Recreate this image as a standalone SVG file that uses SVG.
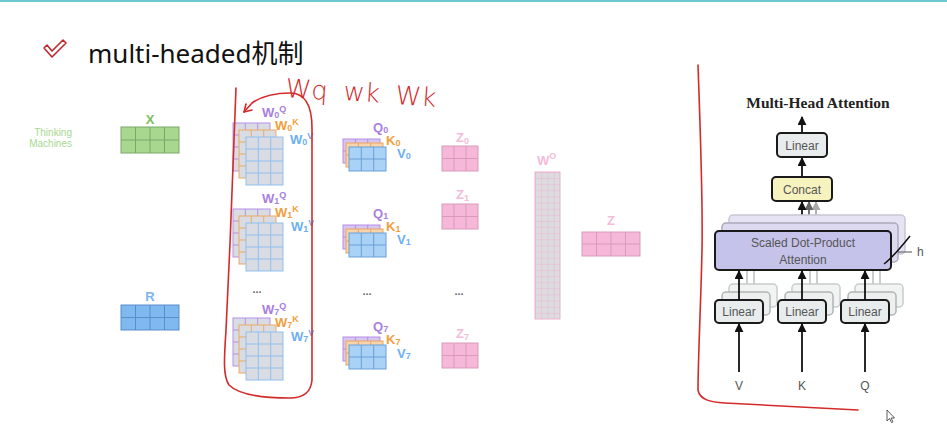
<svg xmlns="http://www.w3.org/2000/svg" xmlns:xlink="http://www.w3.org/1999/xlink" width="947" height="432" viewBox="0 0 947 432">
<style>
.lbl{font-family:"Liberation Sans",Arial,sans-serif;font-weight:bold;font-size:13px}
.sub{font-size:9px}
.pur{fill:#a97fe2}.org{fill:#f0a040}.blu{fill:#6db0f0}.pnk{fill:#f4bcd8}
.red{fill:none;stroke:#d42a2a;stroke-width:1.6;stroke-linecap:round;stroke-linejoin:round}
.hw{font-family:"DejaVu Sans",sans-serif;font-weight:200;font-size:26px;fill:#d42a2a}
.box{stroke:#1a1a1a;stroke-width:2}
.bt{font-family:"Liberation Sans",Arial,sans-serif;font-size:12px;fill:#555;text-anchor:middle}
.ar{stroke:#111;stroke-width:1.8;fill:none}
.dots{font-family:"Liberation Sans",Arial,sans-serif;font-weight:bold;font-size:11px;fill:#666;text-anchor:middle}
</style>
<defs>
<g id="wm"><rect width="37" height="48" fill="#d9dce2" stroke="currentColor"/><path d="M12.3,0V48M24.7,0V48M0,12H37M0,24H37M0,36H37" stroke="currentColor" fill="none"/></g>
<g id="qm"><rect width="37" height="24" stroke="currentColor"/><path d="M12.3,0V24M24.7,0V24M0,12H37" stroke="currentColor" fill="none"/></g>
<g id="zm"><rect width="36" height="25" fill="#f5b8d8" stroke="#d99abc"/><path d="M12,0V25M24,0V25M0,12.5H36" stroke="#d99abc" fill="none"/></g>
<g id="wstack"><use xlink:href="#wm" color="#b890e8"/><use xlink:href="#wm" x="6" y="7" color="#f0aa60"/><use xlink:href="#wm" x="13" y="14" color="#8fc0f0"/></g>
<g id="qstack"><use xlink:href="#qm" fill="#d7c6f2" color="#b58ee6"/><use xlink:href="#qm" x="3" y="4" fill="#f7d4ac" color="#eba660"/><use xlink:href="#qm" x="6" y="8" fill="#aad2f6" color="#6aa0d8"/></g>
<pattern id="wog" x="535" y="172" width="6.25" height="6.125" patternUnits="userSpaceOnUse"><rect width="6.25" height="6.125" fill="#dcdcdf"/><path d="M0,0H6.25M0,0V6.125" stroke="#eeb0cf" stroke-width="1" fill="none"/></pattern>
<marker id="ah" viewBox="0 0 10 10" refX="9" refY="5" markerWidth="5" markerHeight="5" orient="auto"><path d="M0,0L10,5L0,10z" fill="#111"/></marker>
<marker id="ah2" viewBox="0 0 10 10" refX="9" refY="5" markerWidth="5" markerHeight="5" orient="auto"><path d="M0,0L10,5L0,10z" fill="#666"/></marker>
<marker id="ah3" viewBox="0 0 10 10" refX="9" refY="5" markerWidth="5" markerHeight="5" orient="auto"><path d="M0,0L10,5L0,10z" fill="#aaa"/></marker>
<g id="linbk"><rect x="14" y="-16" width="48" height="23" rx="4" fill="#f2f4f4" stroke="#c8cccc" stroke-width="1.5"/><rect x="7" y="-8" width="48" height="23" rx="4" fill="#eef0f0" stroke="#b0b4b4" stroke-width="1.5"/><rect width="48" height="23" rx="4" fill="#e8ecec" class="box"/></g>
</defs>
<rect width="947" height="432" fill="#ffffff"/>
<rect width="947" height="2" fill="#6cc8cc"/>

<g id="title">
<path d="M44,48L47,45L52,51L63,40L66,43L52,57Z" fill="none" stroke="#c0282d" stroke-width="1.6" stroke-linejoin="round"/>
<text x="88" y="63" font-family="'Noto Sans','Noto Sans CJK SC',sans-serif" font-size="26" fill="#111">multi-headed机制</text>
</g>

<g id="input-x">
<text x="72" y="136" font-family="'Liberation Sans',Arial,sans-serif" font-size="10" fill="#a8d890" text-anchor="end">Thinking</text>
<text x="72" y="147" font-family="'Liberation Sans',Arial,sans-serif" font-size="10" fill="#a8d890" text-anchor="end">Machines</text>
<text x="150" y="124" class="lbl" fill="#7cc060" text-anchor="middle" font-size="14">X</text>
<rect x="121" y="127" width="58" height="26" fill="#a8d890" stroke="#78a868"/>
<path d="M135.5,127V153M150,127V153M164.5,127V153M121,140H179" stroke="#78a868" fill="none"/>
</g>

<g id="input-r">
<text x="150" y="301" class="lbl" fill="#7ab4f0" text-anchor="middle" font-size="14">R</text>
<rect x="121" y="305" width="58" height="25" fill="#80b8f0" stroke="#5a8ec8"/>
<path d="M135.5,305V330M150,305V330M164.5,305V330M121,317.5H179" stroke="#5a8ec8" fill="none"/>
</g>

<g id="w0">
<use xlink:href="#wstack" x="233" y="123"/>
<text x="262" y="117" class="lbl pur">W<tspan class="sub" dy="1">0</tspan><tspan class="sub" dy="-6">Q</tspan></text>
<text x="275" y="130" class="lbl org">W<tspan class="sub" dy="1">0</tspan><tspan class="sub" dy="-6">K</tspan></text>
<text x="290" y="144" class="lbl blu">W<tspan class="sub" dy="1">0</tspan><tspan class="sub" dy="-6">V</tspan></text>
</g>
<g id="w1">
<use xlink:href="#wstack" x="233" y="209"/>
<text x="262" y="203" class="lbl pur">W<tspan class="sub" dy="1">1</tspan><tspan class="sub" dy="-6">Q</tspan></text>
<text x="275" y="217" class="lbl org">W<tspan class="sub" dy="1">1</tspan><tspan class="sub" dy="-6">K</tspan></text>
<text x="291" y="231" class="lbl blu">W<tspan class="sub" dy="1">1</tspan><tspan class="sub" dy="-6">V</tspan></text>
</g>
<text x="257" y="293" class="dots">...</text>
<g id="w7">
<use xlink:href="#wstack" x="233" y="318"/>
<text x="262" y="314" class="lbl pur">W<tspan class="sub" dy="1">7</tspan><tspan class="sub" dy="-6">Q</tspan></text>
<text x="275" y="327" class="lbl org">W<tspan class="sub" dy="1">7</tspan><tspan class="sub" dy="-6">K</tspan></text>
<text x="291" y="341" class="lbl blu">W<tspan class="sub" dy="1">7</tspan><tspan class="sub" dy="-6">V</tspan></text>
</g>

<g id="qkv0">
<use xlink:href="#qstack" x="343" y="139"/>
<text x="373" y="132" class="lbl pur">Q<tspan class="sub" dy="1">0</tspan></text>
<text x="386" y="145" class="lbl org">K<tspan class="sub" dy="1">0</tspan></text>
<text x="397" y="158" class="lbl blu">V<tspan class="sub" dy="1">0</tspan></text>
</g>
<g id="qkv1">
<use xlink:href="#qstack" x="343" y="225"/>
<text x="373" y="218" class="lbl pur">Q<tspan class="sub" dy="1">1</tspan></text>
<text x="386" y="231" class="lbl org">K<tspan class="sub" dy="1">1</tspan></text>
<text x="397" y="244" class="lbl blu">V<tspan class="sub" dy="1">1</tspan></text>
</g>
<text x="367" y="295" class="dots">...</text>
<g id="qkv7">
<use xlink:href="#qstack" x="343" y="337"/>
<text x="373" y="331" class="lbl pur">Q<tspan class="sub" dy="1">7</tspan></text>
<text x="386" y="344" class="lbl org">K<tspan class="sub" dy="1">7</tspan></text>
<text x="397" y="358" class="lbl blu">V<tspan class="sub" dy="1">7</tspan></text>
</g>

<g id="z0"><use xlink:href="#zm" x="442" y="146"/><text x="456" y="142" class="lbl pnk">Z<tspan class="sub" dy="2">0</tspan></text></g>
<g id="z1"><use xlink:href="#zm" x="442" y="204"/><text x="456" y="199" class="lbl pnk">Z<tspan class="sub" dy="2">1</tspan></text></g>
<text x="459" y="295" class="dots">...</text>
<g id="z7"><use xlink:href="#zm" x="442" y="343"/><text x="456" y="338" class="lbl pnk">Z<tspan class="sub" dy="2">7</tspan></text></g>

<g id="wo">
<text x="537" y="165" class="lbl pnk">W<tspan class="sub" dy="-6">O</tspan></text>
<rect x="535" y="172" width="25" height="147" fill="url(#wog)" stroke="#eeb0cf"/>
</g>
<g id="z">
<text x="611" y="225" class="lbl pnk" text-anchor="middle">Z</text>
<rect x="582" y="232" width="58" height="24" fill="#f5b8d8" stroke="#d99abc"/>
<path d="M596.5,232V256M611,232V256M625.5,232V256M582,244H640" stroke="#d99abc" fill="none"/>
</g>

<g id="annotations">
<path class="red" d="M236,88C234,150 230,250 226,330C224,360 223,376 229,385C238,394 262,398 290,398C304,398 311,392 312,380L312,128C312,106 305,93 290,93C275,93 262,96 252,103L244,112"/>
<path class="red" d="M244,112L246,104M244,112L252,110"/>
<text x="285" y="97" class="hw" transform="rotate(4 285 97)">Wq</text>
<text x="343" y="100" class="hw" transform="rotate(4 343 100)">wk</text>
<text x="395" y="104" class="hw" transform="rotate(4 395 104)">Wk</text>
<path class="red" d="M698,65C700,120 703,200 702,250C701,300 698,360 698,390C700,400 710,402 725,403L858,410"/>
</g>

<g id="mha-title"><text x="818" y="108" font-family="'Liberation Serif','Times New Roman',serif" font-weight="bold" font-size="15.5" fill="#222" text-anchor="middle">Multi-Head Attention</text></g>

<g id="connectors">
<line x1="802" y1="133" x2="802" y2="117" class="ar" marker-end="url(#ah)"/>
<line x1="802" y1="177" x2="802" y2="158" class="ar" marker-end="url(#ah)"/>
<line x1="816" y1="215" x2="816" y2="202" stroke="#aaa" stroke-width="1.8" marker-end="url(#ah3)"/>
<line x1="809" y1="223" x2="809" y2="202" stroke="#666" stroke-width="1.8" marker-end="url(#ah2)"/>
<line x1="802" y1="231" x2="802" y2="202" class="ar" marker-end="url(#ah)"/>
<g stroke="#c8c8c8" stroke-width="1.8">
<line x1="747" y1="292" x2="747" y2="262"/><line x1="754" y1="284" x2="754" y2="254"/>
<line x1="810" y1="292" x2="810" y2="262"/><line x1="817" y1="284" x2="817" y2="254"/>
<line x1="873" y1="292" x2="873" y2="262"/><line x1="880" y1="284" x2="880" y2="254"/>
</g>
</g>

<g id="sdpa">
<rect x="729" y="215" width="176" height="39" rx="4" fill="#e6e4f4" stroke="#c8c8d4" stroke-width="1.5"/>
<rect x="722" y="223" width="176" height="39" rx="4" fill="#dcd9f0" stroke="#aaaabb" stroke-width="1.5"/>
<rect x="715" y="231" width="176" height="39" rx="4" fill="#c6c3ea" class="box"/>
<text x="803" y="247" class="bt">Scaled Dot-Product</text>
<text x="803" y="264" class="bt">Attention</text>
<path d="M884,264C892,258 902,246 910,236" stroke="#111" stroke-width="1.5" fill="none"/>
<line x1="898" y1="252" x2="912" y2="252" stroke="#555" stroke-width="1"/>
<text x="917" y="256" font-family="'Liberation Sans',Arial,sans-serif" font-size="12" fill="#555">h</text>
</g>

<g id="concat"><rect x="772" y="177" width="60" height="24" rx="4" fill="#f7f3bf" class="box"/><text x="802" y="194" class="bt">Concat</text></g>
<g id="linear-top"><rect x="777" y="133" width="50" height="24" rx="4" fill="#e8ecec" class="box"/><text x="802" y="150" class="bt">Linear</text></g>

<g id="linear-v"><use xlink:href="#linbk" x="715" y="300"/><text x="739" y="316" class="bt">Linear</text></g>
<g id="linear-k"><use xlink:href="#linbk" x="778" y="300"/><text x="802" y="316" class="bt">Linear</text></g>
<g id="linear-q"><use xlink:href="#linbk" x="841" y="300"/><text x="865" y="316" class="bt">Linear</text></g>

<g id="connectors2">
<line x1="739" y1="300" x2="739" y2="271" class="ar" marker-end="url(#ah)"/>
<line x1="802" y1="300" x2="802" y2="271" class="ar" marker-end="url(#ah)"/>
<line x1="865" y1="300" x2="865" y2="271" class="ar" marker-end="url(#ah)"/>
<line x1="739" y1="372" x2="739" y2="324" class="ar" marker-end="url(#ah)"/>
<line x1="802" y1="372" x2="802" y2="324" class="ar" marker-end="url(#ah)"/>
<line x1="865" y1="372" x2="865" y2="324" class="ar" marker-end="url(#ah)"/>
</g>
<g id="inputs">
<text x="739" y="390" class="bt" font-size="13">V</text>
<text x="802" y="390" class="bt" font-size="13">K</text>
<text x="865" y="390" class="bt" font-size="13">Q</text>
</g>
<path d="M887,410L887,421L889.5,418.5L891.5,422.5L893,421.8L891,418L894.5,418Z" fill="#fff" stroke="#333" stroke-width="0.8"/>
</svg>
